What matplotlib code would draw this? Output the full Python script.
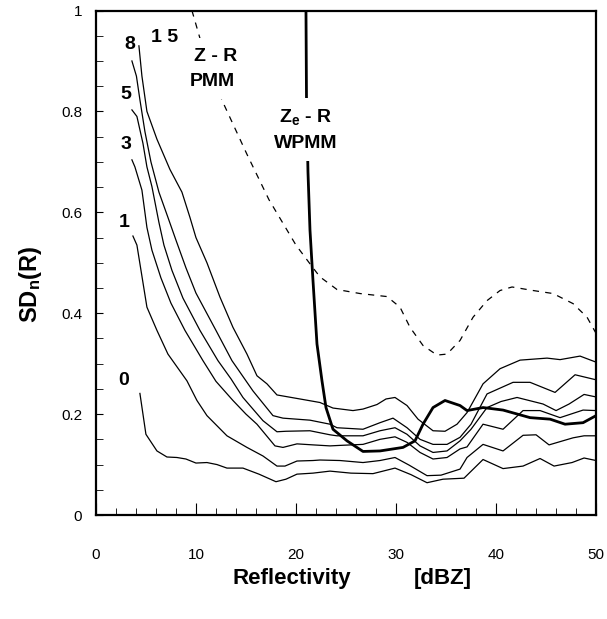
import matplotlib
matplotlib.use('Agg')
import matplotlib.pyplot as plt
from matplotlib.ticker import MultipleLocator, FormatStrFormatter

plt.rcParams['font.family'] = ['Liberation Sans', 'DejaVu Sans']
plt.rcParams['mathtext.fontset'] = 'custom'
plt.rcParams['mathtext.rm'] = 'Liberation Sans'
plt.rcParams['mathtext.bf'] = 'Liberation Sans:bold'

# SD_n(R) curves for different numbers (0, 1, 3, 5, 8, 15)
dbz_0 = [4.4, 5.0, 6.1, 7.1, 8.1, 9.0, 10.0, 11.1, 12.1, 13.1, 14.7, 16.3, 18.0, 19.0, 20.1,
         21.7, 23.4, 25.5, 27.7, 29.9, 31.5, 33.1, 34.7, 36.8, 38.7, 40.7, 42.7, 44.4, 45.8,
         47.6, 48.8, 50.0]
sd_0 = [0.241, 0.160, 0.127, 0.115, 0.114, 0.111, 0.103, 0.104, 0.100, 0.093, 0.093, 0.081,
        0.066, 0.071, 0.081, 0.083, 0.087, 0.083, 0.082, 0.093, 0.080, 0.064, 0.071, 0.073,
        0.110, 0.092, 0.097, 0.112, 0.097, 0.104, 0.113, 0.108]

dbz_1 = [3.7, 4.1, 5.1, 6.1, 7.2, 9.1, 10.1, 11.1, 13.1, 15.1, 16.7, 18.1, 18.9, 20.1, 21.7,
         22.4, 24.4, 26.7, 28.4, 29.9, 31.3, 33.1, 34.5, 36.4, 37.1, 38.7, 40.7, 42.7, 44.0,
         45.3, 47.7, 48.8, 50.0]
sd_1 = [0.553, 0.535, 0.412, 0.366, 0.319, 0.266, 0.227, 0.197, 0.157, 0.134, 0.117, 0.097,
        0.097, 0.107, 0.108, 0.109, 0.108, 0.104, 0.108, 0.114, 0.099, 0.078, 0.079, 0.091,
        0.114, 0.140, 0.127, 0.158, 0.159, 0.139, 0.153, 0.157, 0.157]

dbz_3 = [3.6, 3.9, 4.6, 5.1, 5.6, 6.5, 7.5, 8.9, 10.7, 12.0, 13.7, 15.0, 16.1, 17.9, 18.7,
         20.1, 21.7, 23.4, 24.4, 26.7, 28.4, 29.9, 31.1, 32.4, 33.7, 35.1, 36.4, 37.1, 38.7,
         40.7, 42.7, 44.4, 46.4, 48.7, 50.0]
sd_3 = [0.704, 0.690, 0.644, 0.570, 0.525, 0.470, 0.420, 0.366, 0.306, 0.265, 0.227, 0.200,
        0.180, 0.137, 0.134, 0.141, 0.139, 0.137, 0.138, 0.140, 0.150, 0.155, 0.144, 0.124,
        0.111, 0.114, 0.131, 0.135, 0.180, 0.170, 0.207, 0.207, 0.193, 0.208, 0.207]

dbz_5 = [3.6, 4.1, 4.7, 5.1, 5.6, 6.3, 6.8, 7.6, 8.7, 10.4, 12.2, 13.5, 14.7, 16.7, 18.1,
         19.0, 21.4, 23.4, 24.1, 26.7, 28.4, 29.9, 31.1, 32.4, 33.7, 35.1, 36.4, 37.5, 39.1,
         40.5, 42.1, 44.7, 46.0, 47.3, 48.8, 50.0]
sd_5 = [0.803, 0.790, 0.737, 0.690, 0.651, 0.580, 0.535, 0.485, 0.430, 0.366, 0.306, 0.270,
        0.233, 0.187, 0.165, 0.166, 0.167, 0.159, 0.157, 0.157, 0.167, 0.173, 0.160, 0.137,
        0.124, 0.127, 0.147, 0.170, 0.213, 0.225, 0.233, 0.220, 0.207, 0.220, 0.239, 0.234]

dbz_8 = [3.6, 4.05, 4.4, 4.9, 5.5, 6.3, 7.2, 8.0, 9.0, 10.0, 12.0, 13.6, 15.7, 17.7,
         18.7, 21.4, 23.4, 24.1, 26.7, 28.4, 29.7, 31.1, 32.4, 33.7, 35.1, 36.4, 37.5, 39.1,
         41.7, 43.4, 45.9, 47.9, 50.0]
sd_8 = [0.900, 0.870, 0.823, 0.760, 0.700, 0.640, 0.590, 0.545, 0.490, 0.440, 0.366,
        0.306, 0.246, 0.197, 0.192, 0.188, 0.180, 0.173, 0.170, 0.183, 0.192, 0.173, 0.150,
        0.140, 0.140, 0.154, 0.180, 0.240, 0.263, 0.263, 0.243, 0.278, 0.268]

dbz_15 = [4.3, 4.6, 5.1, 6.1, 7.4, 8.6, 9.4, 10.0, 11.1, 12.4, 13.7, 15.1, 16.1, 17.1, 18.1,
          20.4, 22.4, 23.7, 25.7, 26.7, 28.1, 29.0, 29.9, 31.1, 32.2, 33.7, 34.9, 36.1, 37.1,
          38.7, 40.4, 42.4, 45.1, 46.4, 48.4, 50.0]
sd_15 = [0.930, 0.870, 0.800, 0.745, 0.685, 0.640, 0.590, 0.550, 0.500, 0.432, 0.372, 0.319,
         0.276, 0.260, 0.238, 0.230, 0.223, 0.212, 0.207, 0.210, 0.219, 0.230, 0.233, 0.217,
         0.190, 0.167, 0.166, 0.180, 0.203, 0.260, 0.290, 0.307, 0.311, 0.308, 0.315, 0.303]

# Z-R (PMM), dashed
dbz_pmm = [9.6, 11.2, 12.7, 15.1, 17.3, 20.0, 21.7, 22.4, 24.1, 26.4, 29.1, 30.4, 31.4, 32.7,
           34.1, 35.1, 36.4, 37.7, 39.1, 40.4, 41.6, 43.7, 45.7, 47.7, 49.1, 50.0]
sd_pmm = [1.000, 0.890, 0.818, 0.715, 0.625, 0.535, 0.490, 0.472, 0.447, 0.439, 0.433, 0.412,
          0.372, 0.336, 0.317, 0.319, 0.346, 0.392, 0.425, 0.445, 0.452, 0.445, 0.439, 0.419,
          0.392, 0.360]

# Ze-R (WPMM), thick
dbz_wpmm = [21.0, 21.05, 21.2, 21.4, 21.7, 22.1, 22.6, 23.0, 23.7, 25.1, 26.7, 28.4, 30.7,
            31.9, 32.7, 33.7, 34.9, 36.4, 37.1, 38.7, 40.7, 43.4, 45.4, 46.9, 48.7, 50.0]
sd_wpmm = [1.000, 0.830, 0.680, 0.565, 0.465, 0.339, 0.266, 0.213, 0.170, 0.147, 0.126, 0.127,
           0.134, 0.147, 0.180, 0.213, 0.227, 0.217, 0.207, 0.213, 0.208, 0.193, 0.190, 0.180,
           0.183, 0.197]

curve_labels = ['0', '1', '3', '5', '8', '1 5']
curve_label_x = [2.8, 2.8, 3.0, 3.0, 3.4, 6.9]
curve_label_y = [0.266, 0.58, 0.734, 0.833, 0.932, 0.946]

fig = plt.figure(figsize=(6.07, 6.19), dpi=100)
ax = fig.add_axes([0.158, 0.168, 0.824, 0.815])

for xs, ys in [(dbz_0, sd_0), (dbz_1, sd_1), (dbz_3, sd_3), (dbz_5, sd_5),
               (dbz_8, sd_8), (dbz_15, sd_15)]:
    ax.plot(xs, ys, color='black', lw=0.9)

ax.plot(dbz_pmm, sd_pmm, color='black', lw=0.9, dashes=(5, 5))
ax.plot(dbz_wpmm, sd_wpmm, color='black', lw=2.0)

for lab, lx, ly in zip(curve_labels, curve_label_x, curve_label_y):
    ax.text(lx, ly, lab, fontsize=14, fontweight='bold', ha='center', va='center')

box = dict(facecolor='white', edgecolor='none', pad=7)
ax.text(12.0, 0.909, 'Z - R', fontsize=14, fontweight='bold', ha='center', va='center', bbox=box)
ax.text(11.6, 0.860, 'PMM', fontsize=14, fontweight='bold', ha='center', va='center', bbox=box)
ax.text(21.0, 0.787, r'Z$_\mathbf{e}$ - R', fontsize=14, fontweight='bold',
        ha='center', va='center', bbox=box)
ax.text(21.0, 0.737, 'WPMM', fontsize=14, fontweight='bold', ha='center', va='center', bbox=box)

ax.set_xlim(0, 50)
ax.set_ylim(0, 1)
ax.xaxis.set_major_locator(MultipleLocator(10))
ax.xaxis.set_minor_locator(MultipleLocator(2))
ax.yaxis.set_major_locator(MultipleLocator(0.2))
ax.yaxis.set_minor_locator(MultipleLocator(0.05))
ax.yaxis.set_major_formatter(FormatStrFormatter('%g'))
ax.tick_params(which='both', direction='in', top=False, right=False, labelsize=11)
ax.tick_params(axis='x', which='major', length=9, pad=24)
ax.tick_params(axis='x', which='minor', length=5)
ax.tick_params(axis='y', which='both', length=5, pad=10)
for s in ax.spines.values():
    s.set_linewidth(1.6)

fig.text(0.480, 0.066, 'Reflectivity', fontsize=16, fontweight='bold', ha='center', va='center')
fig.text(0.730, 0.066, '[dBZ]', fontsize=16, fontweight='bold', ha='center', va='center')
fig.text(0.05, 0.54, r'$\mathbf{SD_{n}(R)}$', fontsize=17, rotation=90, ha='center', va='center')

fig.savefig('out.png', dpi=100)
